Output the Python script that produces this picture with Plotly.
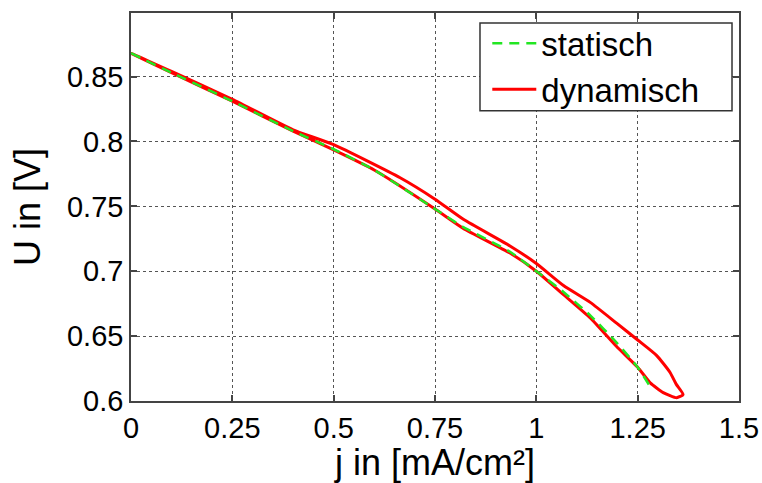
import plotly.graph_objects as go

# static curve
j_stat = [0.0, 0.1, 0.25, 0.4, 0.5, 0.6, 0.75, 0.82, 0.935, 1.0, 1.067, 1.133, 1.198, 1.25, 1.281]
u_stat = [0.868, 0.853, 0.831, 0.808, 0.794, 0.778, 0.748, 0.734, 0.715, 0.700, 0.684, 0.666, 0.645, 0.626, 0.611]

# dynamic loop: lower branch out, upper branch back
j_dyn = [0.0, 0.1, 0.25, 0.4, 0.5, 0.6, 0.75, 0.82, 0.935, 1.0, 1.067, 1.133, 1.198, 1.25, 1.281, 1.313, 1.346, 1.362,
         1.345, 1.33, 1.297, 1.25, 1.198, 1.133, 1.067, 1.0, 0.935, 0.82, 0.75, 0.664, 0.5, 0.4, 0.25, 0.1, 0.0]
u_dyn = [0.868, 0.853, 0.831, 0.808, 0.7935, 0.778, 0.748, 0.733, 0.714, 0.700, 0.682, 0.664, 0.642, 0.626, 0.614, 0.6065, 0.6025, 0.605,
         0.613, 0.622, 0.635, 0.647, 0.660, 0.676, 0.689, 0.706, 0.7195, 0.740, 0.7555, 0.772, 0.7975, 0.809, 0.8325, 0.854, 0.868]

x_ticks = [0, 0.25, 0.5, 0.75, 1, 1.25, 1.5]
x_tick_labels = ["0", "0.25", "0.5", "0.75", "1", "1.25", "1.5"]
y_ticks = [0.6, 0.65, 0.7, 0.75, 0.8, 0.85]
y_tick_labels = ["0.6", "0.65", "0.7", "0.75", "0.8", "0.85"]

FONT = "Liberation Sans, Arial, sans-serif"

fig = go.Figure()
fig.add_trace(go.Scatter(x=j_dyn, y=u_dyn, mode="lines", name="dynamisch",
                         line=dict(color="#ff0000", width=3, shape="spline", smoothing=0.5), legendrank=2))
fig.add_trace(go.Scatter(x=j_stat, y=u_stat, mode="lines", name="statisch",
                         line=dict(color="#22e622", width=2.5, dash="10px,7px", shape="spline", smoothing=0.5),
                         legendrank=1))

axis_common = dict(
    showline=True, linecolor="#444444", linewidth=1.5, mirror="ticks",
    ticks="inside", ticklen=6, tickwidth=1.5, tickcolor="#444444",
    showgrid=True, gridcolor="#555555", gridwidth=1, griddash="dot",
    zeroline=False, automargin=False,
    tickfont=dict(family=FONT, size=29, color="#000000"),
    title_font=dict(family=FONT, size=36, color="#000000"),
)

# legend frame (white box with dark border) behind the legend entries
fig.add_shape(type="rect", xref="paper", yref="paper", x0=0.574, x1=0.9885, y0=0.748, y1=0.974,
              line=dict(color="#333333", width=1.5), fillcolor="white", layer="above")

fig.update_layout(
    width=762, height=483,
    margin=dict(l=131, r=23, t=13, b=82),
    paper_bgcolor="white", plot_bgcolor="white",
    xaxis=dict(range=[0, 1.5], tickvals=x_ticks, ticktext=x_tick_labels,
               title=dict(text="j in [mA/cm²]"), **axis_common),
    yaxis=dict(range=[0.6, 0.899], tickvals=y_ticks, ticktext=y_tick_labels,
               title=dict(text="U in [V]"), **axis_common),
    legend=dict(x=0.586, y=0.994, xanchor="left", yanchor="top",
                bgcolor="rgba(0,0,0,0)", borderwidth=0,
                font=dict(family=FONT, size=33, color="#000000"),
                itemwidth=44, tracegroupgap=0),
    showlegend=True,
)

fig.write_html("out.html")
